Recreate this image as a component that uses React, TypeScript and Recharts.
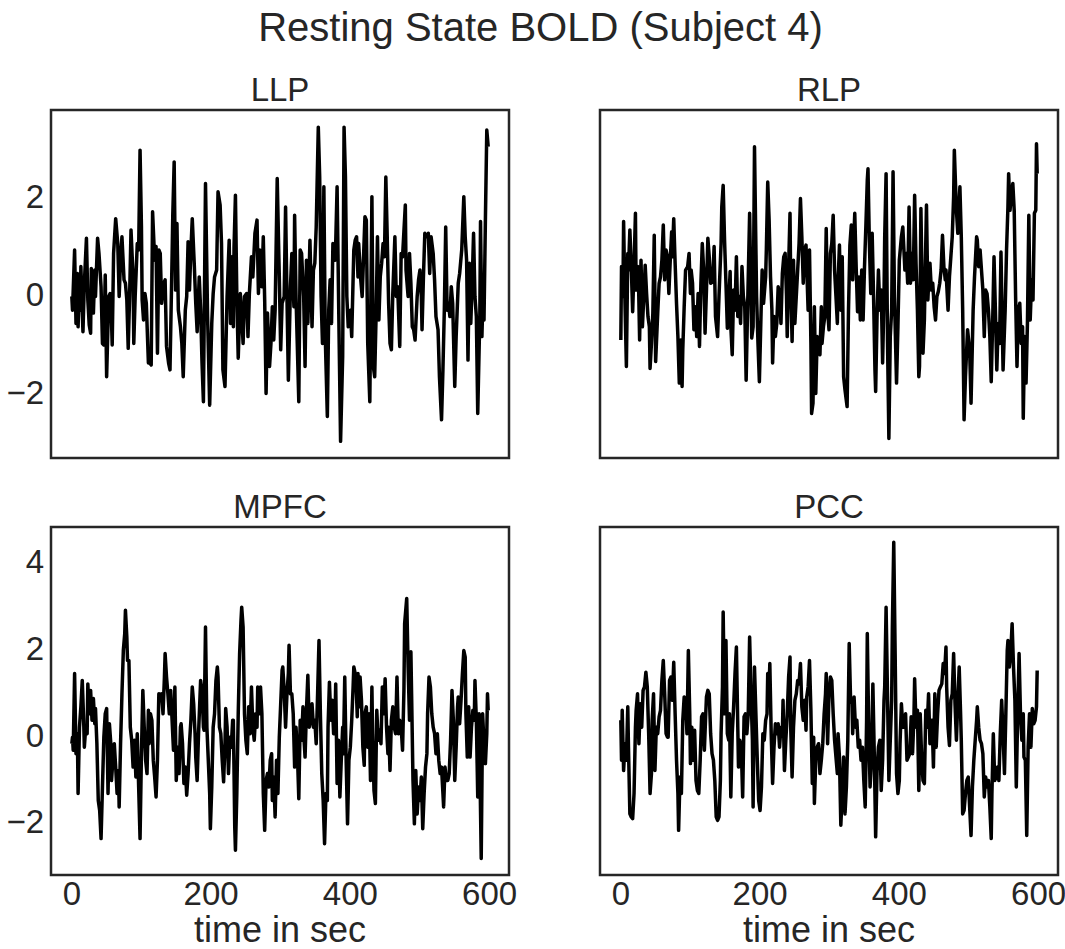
import { LineChart, Line, XAxis, YAxis, ReferenceArea } from 'recharts'

// [time in sec, signal]
const LLP: [number, number][] = [
  [0,-0.05],[1,-0.33],[4,0.9],[6,-0.6],[8,0.42],[9,-0.67],[11,0.29],[12,-0.33],[13,0.56],[16,-0.77],[18,0.22],[21,1.14],[23,-0.12],[25,-0.63],[27,-0.8],[28,0.52],[31,-0.39],[33,0.49],[34,-0.05],[37,1.14],[39,0.83],[42,0.15],[44,-1.01],[46,-1.04],[48,0.39],[50,-1.69],[53,-0.05],[55,0.01],[56,-0.05],[58,-1.04],[60,0.83],[63,1.54],[66,1.03],[68,-0.05],[70,0.69],[72,1.17],[75,0.29],[77,0.22],[79,-0.12],[81,-1.11],[83,-0.05],[85,1.31],[88,0.35],[89,-1.01],[91,-0.05],[94,1.03],[96,0.9],[98,2.94],[100,1.37],[101,-0.12],[103,-0.53],[105,0.01],[107,-0.19],[110,-1.41],[112,-1.41],[114,-1.45],[116,1.68],[119,0.69],[121,0.97],[123,-1.21],[125,0.9],[127,0.83],[129,-0.19],[132,0.22],[134,0.29],[136,-1.07],[139,-1.41],[141,-1.55],[144,0.76],[145,1.61],[147,2.7],[149,0.08],[151,1.44],[153,-0.33],[156,-0.67],[158,-1.01],[160,-1.69],[163,-0.33],[165,-0.05],[167,1.07],[169,0.08],[171,0.9],[173,1.54],[176,0.56],[178,-0.19],[180,-0.77],[183,0.35],[185,-0.33],[187,-1.41],[189,-2.2],[192,2.26],
  [195,-0.46],[198,-2.27],[201,-0.6],[203,0.01],[205,0.35],[208,0.49],[210,2.09],[213,1.82],[215,1.03],[217,-1.55],[220,-1.89],[223,-0.05],[226,1.1],[228,-0.6],[230,0.76],[232,-0.67],[233,0.97],[235,2.02],[237,-0.05],[239,-1.31],[242,0.01],[244,-0.46],[246,-1.01],[248,-0.05],[251,0.01],[253,-0.87],[255,0.01],[258,0.76],[260,0.35],[263,1.24],[266,1.51],[268,0.01],[270,0.9],[273,0.15],[275,1.17],[277,-0.12],[279,-2.03],[281,-0.39],[284,-1.48],[286,-1.01],[288,-0.26],[290,-0.94],[292,-0.33],[295,2.36],[298,0.35],[300,-1.14],[302,-0.19],[305,-0.05],[307,1.78],[309,-0.05],[311,-1.76],[314,0.15],[316,0.83],[319,-0.26],[320,1.61],[322,-0.05],[326,-2.2],[328,0.9],[330,0.83],[333,-0.05],[335,-1.48],[337,0.69],[339,-0.6],[342,1.1],[345,-0.67],[347,0.49],[349,0.63],[351,1.37],[354,3.41],[356,2.39],[358,-0.05],[360,-1.01],[362,2.19],[364,-0.87],[367,-2.5],[369,-0.33],[371,0.29],[373,-0.6],[375,1.03],[378,0.69],[379,1.03],[381,2.19],[384,-1.01],[386,-3.01],[389,-1.28],[391,3.41],[393,2.39],[395,-0.05],[397,-0.67],[400,-0.33],[402,-0.87],[405,0.9],
  [407,1.1],[409,1.17],[411,0.35],[412,1.03],[415,0.29],[417,-0.05],[418,0.35],[421,1.58],[423,1.51],[425,-1.01],[428,-2.2],[431,1.99],[433,-1.48],[435,-1.69],[437,-0.46],[439,1.17],[441,-0.53],[443,0.35],[445,0.63],[447,1.03],[449,0.76],[451,2.39],[453,1.17],[455,-0.19],[457,-1.01],[459,-1.14],[461,0.01],[464,1.17],[466,-0.05],[468,0.15],[471,-1.07],[473,0.83],[475,0.76],[479,1.82],[480,0.49],[483,-0.05],[485,0.83],[487,0.22],[489,-0.67],[491,-0.73],[493,-0.94],[496,-0.05],[498,0.29],[500,0.49],[502,-0.05],[503,-0.73],[505,0.35],[507,1.24],[509,1.17],[512,1.24],[514,0.42],[516,1.17],[519,0.83],[521,0.29],[523,-0.46],[526,-0.73],[528,-1.69],[531,-2.57],[533,-1.55],[535,-0.33],[537,1.37],[539,-0.33],[541,-0.19],[543,-0.46],[545,0.15],[547,-0.19],[550,-1.89],[552,-0.87],[555,0.22],[557,0.42],[560,0.9],[563,1.99],[565,1.17],[567,0.69],[569,-1.35],[571,0.63],[573,-0.6],[575,0.22],[577,1.24],[579,-0.05],[581,-0.46],[583,-2.44],[586,-0.46],[587,1.48],[589,-0.87],[590,-0.33],[592,-0.53],[594,1.51],[596,3.35],[598,3.01],
]

const RLP: [number, number][] = [
  [0,-0.94],[1,0.56],[3,-0.05],[4,1.48],[6,-0.19],[8,-1.48],[10,0.83],[11,0.49],[13,1.31],[15,0.56],[17,-0.36],[19,0.56],[21,1.65],[22,0.08],[25,0.56],[27,-0.94],[29,0.69],[31,-0.67],[33,-0.05],[35,0.59],[37,0.01],[39,-0.46],[41,-0.67],[42,-1.52],[44,-1.01],[46,-0.39],[48,1.2],[50,-1.38],[53,-0.39],[55,0.22],[57,0.35],[59,0.69],[61,1.41],[63,0.29],[65,0.9],[67,0.76],[69,0.01],[71,0.69],[73,1.27],[74,0.76],[76,1.54],[78,0.63],[80,-0.19],[82,-0.87],[84,-1.82],[86,-0.94],[88,-1.89],[89,-1.14],[91,-0.26],[93,0.49],[96,0.56],[98,0.83],[100,0.01],[101,0.49],[103,0.22],[105,-0.73],[107,-0.26],[109,-0.87],[111,0.01],[113,-1.07],[115,0.22],[117,1.03],[119,0.49],[121,-0.8],[123,0.08],[125,1.14],[127,0.76],[129,0.22],[132,0.25],[134,0.97],[136,-0.46],[139,-0.87],[141,-0.05],[144,1.03],[145,1.78],[147,2.22],[149,1.1],[151,0.22],[153,-0.7],[155,-0.19],[157,0.46],[158,-0.67],[160,-1.24],[162,0.08],[164,-0.33],[166,0.76],[168,-0.46],[170,-0.05],[172,-0.6],[174,0.56],[176,-0.05],[178,-0.26],[180,-1.76],[182,-0.33],[185,1.65],[188,-0.9],[190,-0.67],[192,3.01],
  [195,-0.05],[197,-1.01],[199,-1.79],[202,-0.05],[203,0.49],[205,-0.19],[208,0.35],[209,0.9],[211,2.29],[213,1.51],[215,0.35],[217,-0.33],[218,-1.41],[220,-0.46],[222,-0.87],[224,-0.6],[226,0.15],[228,-0.05],[230,-0.6],[232,0.42],[234,0.76],[236,0.83],[238,-0.05],[239,-0.87],[241,0.56],[243,1.65],[244,0.22],[246,-0.97],[248,0.69],[250,-0.6],[252,-0.05],[254,0.49],[256,1.03],[258,1.95],[260,1.17],[262,0.22],[264,0.9],[266,1.0],[267,0.56],[269,-0.33],[271,0.9],[273,-1.01],[274,-2.44],[276,-2.23],[278,-0.26],[280,-2.03],[282,-0.87],[284,-1.14],[286,-1.24],[288,-0.26],[289,-1.01],[291,-0.67],[293,-0.46],[295,1.34],[297,-0.33],[299,-0.73],[301,0.83],[303,1.03],[305,1.61],[307,0.49],[309,-0.05],[311,-0.6],[312,0.22],[314,1.0],[316,-0.33],[318,0.76],[320,-1.69],[322,-1.96],[325,-2.3],[327,-0.33],[329,1.0],[331,1.41],[333,0.29],[334,0.9],[336,1.65],[338,0.56],[340,-0.36],[342,0.35],[344,-0.53],[346,0.49],[348,-0.53],[350,0.56],[352,1.41],[354,2.33],[355,2.56],[357,1.03],[359,0.01],[361,1.24],[363,-0.05],[365,-1.55],[366,-1.99],[368,-0.46],[370,0.49],[372,-0.33],[374,0.08],[376,-1.41],[378,-0.05],[379,1.17],[381,2.46],[383,-0.94],[385,-2.95],[387,-0.87],[389,-0.33],[391,2.5],[393,-0.05],[396,-1.82],[398,-0.67],[400,0.69],[403,1.17],[405,1.37],
  [408,0.49],[410,0.83],[412,0.22],[414,1.78],[416,0.22],[418,0.83],[420,0.29],[422,2.02],[424,0.63],[426,-0.33],[428,-1.69],[429,-1.48],[431,1.75],[433,-0.05],[434,-1.21],[436,-0.53],[439,1.82],[441,-0.12],[443,0.49],[444,0.63],[446,0.08],[448,0.22],[450,-0.26],[452,-0.53],[454,-0.05],[456,0.05],[458,0.22],[460,0.49],[462,1.2],[464,0.56],[466,0.29],[467,0.49],[470,-0.33],[472,0.35],[474,0.76],[476,1.17],[478,1.99],[479,2.94],[482,1.71],[484,1.24],[487,2.19],[489,1.17],[491,-0.33],[493,-2.57],[495,-1.69],[498,-0.73],[501,-1.14],[503,-2.23],[506,-0.33],[508,0.35],[511,1.17],[512,1.1],[514,0.56],[516,0.9],[518,0.49],[520,0.08],[522,-0.87],[524,0.08],[526,0.01],[528,-0.33],[530,-0.87],[532,-1.79],[534,-0.6],[536,0.76],[538,-0.33],[540,-1.55],[542,-0.6],[544,-1.01],[546,0.86],[549,-1.55],[552,-0.33],[554,0.9],[556,1.78],[557,2.46],[559,1.71],[561,2.05],[563,2.26],[565,1.71],[567,-0.05],[569,-1.48],[571,-0.33],[573,-0.19],[575,-1.01],[577,-0.67],[578,-2.54],[580,-0.87],[582,-1.82],[584,-0.6],[586,1.61],[588,-0.53],[590,0.29],[592,-0.12],[594,1.65],[596,1.71],[597,3.07],[598,2.46],
]

const MPFC: [number, number][] = [
  [0,-0.2],[1,-0.05],[2,-0.35],[4,1.42],[6,-0.43],[8,0.03],[9,-1.35],[11,0.18],[13,0.65],[15,1.26],[17,0.34],[18,-0.28],[20,0.18],[22,0.03],[23,1.18],[25,0.49],[27,1.03],[29,0.34],[31,0.84],[33,0.26],[34,0.61],[36,-0.2],[38,-1.51],[40,-1.74],[42,-2.39],[44,-1.2],[46,-0.05],[48,0.49],[50,0.61],[52,-1.35],[54,0.26],[56,-0.2],[57,-1.05],[59,-0.58],[61,-0.2],[63,-0.74],[65,-1.35],[67,-0.82],[68,-1.66],[70,-0.2],[72,0.95],[74,1.95],[76,2.34],[77,2.88],[79,2.26],[80,1.72],[82,1.72],[84,0.18],[86,-0.12],[88,-0.74],[90,-0.12],[92,-0.97],[94,0.03],[96,-1.2],[98,-2.39],[100,-0.43],[102,1.03],[104,0.18],[106,-0.58],[108,-0.89],[110,0.57],[111,-0.2],[113,0.49],[115,0.34],[117,-0.58],[119,-0.97],[121,-1.43],[123,-0.58],[125,0.95],[127,0.8],[129,0.95],[131,0.49],[133,1.34],[134,1.88],[136,1.34],[138,0.95],[140,0.49],[142,1.03],[144,0.34],[146,-0.35],[148,1.11],[150,-1.05],[152,-0.28],[154,-0.89],[156,0.18],[157,0.26],[159,-0.2],[161,-1.12],[163,-0.74],[165,-1.39],[167,-0.89],[169,-0.2],[171,0.34],[173,1.11],[175,0.72],[177,0.03],[178,-0.51],[180,-1.05],[182,0.03],[185,1.26],[187,1.03],[189,0.18],[190,0.11],[192,2.49],
  [194,0.18],[196,-0.58],[198,-1.35],[199,-2.16],[201,-1.2],[203,0.18],[205,0.49],[207,1.26],[209,1.57],[210,1.34],[212,0.18],[214,0.03],[216,-0.58],[218,-1.08],[220,-0.2],[221,0.61],[223,0.18],[225,-0.89],[227,-0.05],[229,-0.28],[231,0.34],[232,0.34],[234,-2.12],[235,-2.66],[237,-1.35],[239,0.49],[241,1.88],[243,2.65],[244,2.95],[246,2.49],[248,0.49],[250,-0.12],[252,-0.43],[254,0.65],[256,0.03],[258,1.11],[260,0.18],[262,-0.12],[264,0.49],[266,0.18],[267,1.11],[269,0.49],[271,1.11],[273,0.49],[275,-1.35],[277,-2.2],[279,-1.05],[281,-0.89],[283,-1.2],[285,-0.58],[287,-0.43],[288,-1.51],[290,-0.97],[292,-1.89],[294,-0.58],[296,-1.35],[298,-0.05],[300,0.72],[302,1.49],[303,1.57],[305,1.03],[307,0.18],[309,0.95],[311,1.42],[312,2.07],[314,0.95],[316,0.95],[318,0.49],[320,-0.74],[322,0.18],[324,-0.43],[326,-1.47],[328,0.34],[330,-0.12],[332,0.65],[333,0.03],[335,-0.51],[337,0.57],[339,1.38],[341,0.18],[343,0.34],[345,0.72],[347,0.18],[349,0.34],[351,-0.2],[353,0.95],[355,2.18],[357,0.49],[359,-0.89],[361,-1.51],[363,-2.51],[365,-1.35],[367,-1.51],[368,0.18],[370,1.22],[372,0.34],[374,0.8],[376,0.03],[378,0.34],[379,1.18],[381,-1.12],[383,-0.12],[385,-1.43],[387,-0.58],[389,0.18],[390,-0.43],[392,1.34],[394,-0.58],[396,-2.05],[398,-0.58],[400,-0.28],[402,0.34],[404,1.11],[405,1.57],
  [408,1.34],[410,0.42],[411,1.42],[412,0.65],[414,1.34],[416,0.8],[418,-0.28],[420,-0.7],[421,0.49],[423,0.65],[425,-0.28],[427,0.49],[429,-1.05],[431,1.11],[432,0.03],[434,-1.28],[436,-1.58],[438,0.57],[440,-0.12],[442,0.11],[444,-0.2],[446,1.11],[448,0.49],[450,1.3],[452,0.18],[454,-0.43],[455,0.18],[457,-0.82],[459,0.34],[461,0.65],[463,0.18],[465,0.03],[467,1.34],[469,0.03],[471,0.34],[473,0.18],[475,-0.35],[477,1.03],[478,2.57],[481,3.15],[483,1.57],[485,0.34],[487,1.92],[488,0.95],[490,-1.05],[492,-2.05],[494,-0.82],[496,-1.82],[498,-1.2],[500,-1.51],[502,-0.97],[504,-2.16],[506,-1.35],[508,-0.74],[510,-0.43],[511,0.49],[513,1.34],[515,1.11],[517,0.49],[519,0.18],[521,0.03],[523,-0.43],[525,0.03],[527,-0.58],[529,-0.89],[531,-0.74],[533,-1.35],[534,-1.66],[536,-0.74],[538,-1.05],[540,-1.05],[542,-0.89],[544,-0.12],[546,1.03],[548,0.34],[550,-1.05],[552,-0.28],[554,0.65],[555,0.88],[557,0.26],[559,0.8],[561,1.42],[563,1.95],[565,1.8],[566,0.49],[568,-0.51],[570,0.65],[572,-0.51],[574,0.18],[576,0.57],[578,0.34],[579,1.26],[581,0.34],[583,-1.43],[585,0.49],[588,-2.85],[590,0.49],[592,-0.2],[594,-0.66],[596,0.03],[597,0.95],[598,0.57],
]

const PCC: [number, number][] = [
  [0,0.34],[1,-0.58],[2,0.57],[4,-0.82],[6,-0.2],[8,-0.58],[10,0.65],[11,-0.28],[13,-1.82],[15,-1.89],[17,-1.93],[19,-1.35],[21,0.18],[22,0.57],[24,0.95],[26,-0.2],[28,0.72],[30,0.18],[32,1.03],[34,1.11],[36,1.45],[38,1.11],[40,0.03],[42,-1.35],[44,-0.89],[45,0.34],[47,0.95],[49,-0.82],[51,0.18],[53,0.03],[55,0.42],[57,0.57],[59,1.26],[61,1.72],[63,0.95],[65,0.03],[67,-0.05],[68,-0.05],[70,1.26],[72,1.34],[74,0.8],[76,1.68],[78,0.49],[80,-0.58],[82,-1.35],[83,-2.2],[85,-0.97],[87,-1.35],[89,0.34],[91,0.88],[93,0.8],[95,0.03],[97,1.95],[99,0.49],[100,-0.66],[102,0.18],[104,-0.58],[106,0.11],[108,-1.05],[110,-1.28],[112,-1.35],[114,-0.58],[116,0.42],[118,0.49],[120,-0.35],[122,0.49],[123,0.88],[125,1.03],[127,0.95],[129,0.03],[131,-0.43],[133,-0.58],[135,-1.05],[137,-1.89],[139,-1.97],[141,-1.89],[143,-1.05],[144,0.03],[146,1.11],[147,2.84],[149,0.49],[151,2.18],[153,0.03],[155,-0.12],[156,0.49],[158,-1.43],[160,0.03],[162,0.65],[164,1.42],[166,2.03],[167,1.11],[169,-0.74],[171,-0.12],[173,-0.28],[175,-1.43],[177,0.42],[179,0.49],[181,0.03],[183,0.49],[185,2.26],[187,0.95],[189,-0.12],[190,-1.66],[192,1.57],
  [194,0.49],[196,-0.58],[198,-1.51],[200,-1.74],[202,-1.2],[204,0.03],[206,-0.12],[208,0.34],[210,0.49],[211,1.42],[213,1.11],[214,1.65],[216,0.03],[218,-1.12],[220,-0.28],[222,0.26],[224,0.03],[226,0.26],[228,-0.28],[230,0.18],[232,0.03],[233,0.8],[235,-0.82],[237,-0.12],[239,0.49],[241,1.34],[243,1.8],[244,0.18],[246,-0.97],[248,0.18],[250,0.8],[252,0.95],[254,1.26],[256,1.18],[258,1.65],[260,0.65],[262,0.34],[264,0.8],[266,0.11],[267,0.88],[269,1.11],[271,1.72],[273,0.57],[275,-1.12],[277,-0.05],[278,-1.58],[280,-0.58],[282,-0.28],[284,-0.2],[286,-0.89],[288,-0.58],[290,-0.2],[292,0.49],[294,0.95],[295,1.42],[297,-0.2],[299,0.95],[301,1.34],[303,1.26],[305,0.49],[307,-0.12],[309,-0.51],[311,-0.89],[312,0.03],[314,-0.51],[316,-2.08],[318,-1.35],[320,-0.51],[322,-1.82],[324,-1.2],[326,-0.12],[328,2.11],[330,0.8],[332,0.72],[333,0.03],[335,0.88],[337,0.18],[339,0.34],[341,-0.28],[343,-0.12],[345,-0.58],[347,-0.28],[349,-1.05],[351,-1.66],[353,0.34],[354,2.34],[356,0.18],[358,-1.2],[360,-0.58],[362,1.18],[364,-0.43],[366,-2.35],[368,-0.82],[370,-0.28],[372,-0.12],[374,-1.28],[376,-0.58],[378,0.8],[379,1.11],[381,2.95],[383,0.95],[385,-1.05],[387,-0.12],[389,0.8],[390,2.49],[392,4.45],[394,1.88],[396,-0.89],[398,-1.35],[400,-1.05],[401,-0.2],[403,0.72],[405,0.18],
  [407,0.18],[409,0.49],[411,-0.58],[413,-0.51],[415,-0.43],[417,0.42],[419,-0.43],[421,0.42],[422,1.3],[424,0.18],[426,0.57],[428,-1.28],[430,0.49],[432,-0.51],[434,-1.05],[436,-1.12],[438,0.57],[440,0.18],[442,0.95],[444,-0.2],[445,0.18],[447,0.34],[449,-0.74],[451,0.95],[453,-0.28],[455,0.49],[457,1.03],[459,1.11],[461,1.18],[463,1.65],[465,1.42],[467,2.03],[468,1.11],[470,0.18],[472,-0.24],[474,0.8],[476,0.95],[478,1.88],[480,0.72],[482,-0.12],[484,0.8],[486,1.57],[488,0.49],[489,-0.12],[491,-1.82],[493,-1.74],[495,-1.35],[497,-1.05],[499,-0.97],[501,-1.66],[503,-2.32],[505,-1.2],[507,-0.58],[509,-0.12],[511,0.34],[512,0.65],[514,0.18],[516,-0.12],[518,-0.2],[520,-0.43],[522,-1.43],[524,-0.97],[526,-1.2],[528,-1.05],[530,-1.66],[532,-2.39],[533,-1.35],[535,0.03],[537,-1.05],[539,-0.97],[541,-0.74],[543,-1.05],[545,0.03],[547,0.8],[549,0.03],[551,-0.89],[553,0.49],[555,1.95],[556,2.18],[558,1.57],[560,1.88],[562,2.57],[564,1.57],[566,0.8],[568,-1.2],[570,0.49],[572,1.88],[574,0.49],[576,-0.12],[578,0.49],[579,-0.51],[581,-0.58],[583,-2.32],[585,-0.28],[587,0.49],[589,-0.28],[591,0.61],[593,0.26],[595,0.34],[597,0.65],[598,1.49],
]

const X_TICKS = [0, 200, 400, 600]
const X_DOMAIN: [number, number] = [-29.9, 627.9]
const TOP_TICKS = [-2, 0, 2]
const TOP_DOMAIN: [number, number] = [-3.35, 3.76]
const BOTTOM_TICKS = [-2, 0, 2, 4]
const BOTTOM_DOMAIN: [number, number] = [-3.23, 4.8]

const FONT = '"Liberation Sans", Arial, "DejaVu Sans", sans-serif'
const INK = '#262626'
const BOX_W = 458
const BOX_H = 348

const fmt = (v: number) => (v < 0 ? `\u2212${Math.abs(v)}` : String(v))

interface PanelProps {
  title: string
  series: [number, number][]
  boxLeft: number
  boxTop: number
  showX: boolean
  showY: boolean
  domain: [number, number]
  ticks: number[]
}

function Panel({ title, series, boxLeft, boxTop, showX, showY, domain, ticks }: PanelProps) {
  const data = series.map(([t, v]) => ({ t, v }))
  const padL = showY ? 51 : 4
  const margin = { top: 4, right: 20, bottom: showX ? 0 : 4, left: showY ? 0 : 4 }
  const width = padL + BOX_W + 20
  const height = 4 + BOX_H + (showX ? 60 : 4)
  const tickStyle = { fill: INK, fontSize: 33, fontFamily: FONT }

  return (
    <>
      <div style={{ position: 'absolute', left: boxLeft, top: boxTop - 37, width: BOX_W, textAlign: 'center', fontSize: 33, lineHeight: '33px', color: INK }}>
        {title}
      </div>
      <div style={{ position: 'absolute', left: boxLeft - padL, top: boxTop - 4 }}>
        <LineChart width={width} height={height} data={data} margin={margin}>
          <XAxis
            dataKey="t"
            type="number"
            domain={X_DOMAIN}
            ticks={X_TICKS}
            interval={0}
            hide={!showX}
            height={60}
            tickLine={false}
            axisLine={false}
            tickSize={0}
            tickMargin={7}
            tick={tickStyle}
            allowDataOverflow
          />
          <YAxis
            type="number"
            domain={domain}
            ticks={ticks}
            interval={0}
            hide={!showY}
            width={51}
            tickLine={false}
            axisLine={false}
            tickSize={0}
            tickMargin={7}
            tick={tickStyle}
            tickFormatter={fmt}
            allowDataOverflow
          />
          <ReferenceArea x1={X_DOMAIN[0]} x2={X_DOMAIN[1]} y1={domain[0]} y2={domain[1]} fill="none" stroke={INK} strokeWidth={2.5} ifOverflow="visible" />
          <Line dataKey="v" type="linear" stroke="#000" strokeWidth={3.5} strokeLinejoin="round" dot={false} activeDot={false} isAnimationActive={false} />
        </LineChart>
      </div>
      {showX && (
        <div style={{ position: 'absolute', left: boxLeft, top: boxTop + BOX_H + 37, width: BOX_W, textAlign: 'center', fontSize: 36, lineHeight: '36px', color: INK }}>
          time in sec
        </div>
      )}
    </>
  )
}

export default function App() {
  return (
    <div style={{ position: 'absolute', left: 0, top: 0, width: 1065, height: 949, background: '#fff', fontFamily: FONT, overflow: 'hidden' }}>
      <div style={{ position: 'absolute', left: 8, top: 7, width: 1065, textAlign: 'center', fontSize: 40, lineHeight: '40px', color: INK }}>
        Resting State BOLD (Subject 4)
      </div>
      <Panel title="LLP" series={LLP} boxLeft={51} boxTop={110} showX={false} showY domain={TOP_DOMAIN} ticks={TOP_TICKS} />
      <Panel title="RLP" series={RLP} boxLeft={600} boxTop={110} showX={false} showY={false} domain={TOP_DOMAIN} ticks={TOP_TICKS} />
      <Panel title="MPFC" series={MPFC} boxLeft={51} boxTop={527} showX showY domain={BOTTOM_DOMAIN} ticks={BOTTOM_TICKS} />
      <Panel title="PCC" series={PCC} boxLeft={600} boxTop={527} showX showY={false} domain={BOTTOM_DOMAIN} ticks={BOTTOM_TICKS} />
    </div>
  )
}
